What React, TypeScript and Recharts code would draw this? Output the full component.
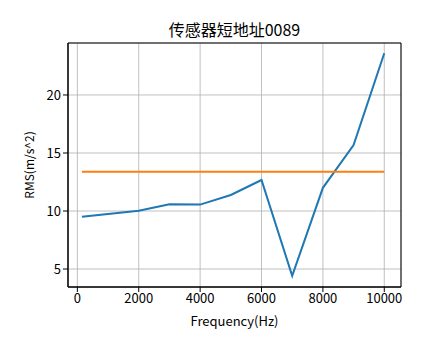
import React from 'react';
import { LineChart, Line, XAxis, YAxis, CartesianGrid, ReferenceArea } from 'recharts';

const chartTitle = '传感器短地址0089';
const xLabel = 'Frequency(Hz)';
const yLabel = 'RMS(m/s^2)';

const frequencies = [150, 2000, 3000, 4000, 5000, 6000, 7000, 8000, 9000, 10000];
const rmsValues = [9.51, 10.03, 10.58, 10.55, 11.38, 12.67, 4.42, 12.0, 15.69, 23.6];
const thresholdValues = [13.39, 13.39, 13.39, 13.39, 13.39, 13.39, 13.39, 13.39, 13.39, 13.39];

const xTicks = [0, 2000, 4000, 6000, 8000, 10000];
const yTicks = [5, 10, 15, 20];

const xDomain: [number, number] = [-305, 10545];
const yDomain: [number, number] = [3.45, 24.48];

const data = frequencies.map((f, i) => ({ f, rms: rmsValues[i], limit: thresholdValues[i] }));

const FONT = '"Noto Sans CJK SC", "Noto Sans", sans-serif';

export default function App() {
  return (
    <div style={{ position: 'absolute', left: 0, top: 0, width: 444, height: 359, background: '#fff', fontFamily: FONT }}>
      <div
        style={{
          position: 'absolute',
          left: 68,
          top: 18,
          width: 333,
          textAlign: 'center',
          fontSize: 16,
          lineHeight: '22px',
          color: '#000',
          fontFamily: FONT,
        }}
      >
        {chartTitle}
      </div>
      <LineChart
        width={444}
        height={359}
        data={data}
        margin={{ top: 43, right: 43, left: 0, bottom: 22 }}
        style={{ fontFamily: FONT }}
      >
        <CartesianGrid stroke="#b0b0b0" strokeWidth={0.8} />
        <XAxis
          dataKey="f"
          type="number"
          domain={xDomain}
          ticks={xTicks}
          allowDataOverflow
          height={50}
          stroke="#000"
          tickSize={5}
          tick={{ fill: '#000', fontSize: 13, fontFamily: FONT }}
          tickLine={{ stroke: '#000' }}
          axisLine={{ stroke: '#000' }}
          label={{ value: xLabel, position: 'insideBottom', offset: 11, fill: '#000', fontSize: 13, fontFamily: FONT }}
        />
        <YAxis
          type="number"
          domain={yDomain}
          ticks={yTicks}
          allowDataOverflow
          width={68}
          stroke="#000"
          tickSize={5}
          tick={{ fill: '#000', fontSize: 13, fontFamily: FONT }}
          tickLine={{ stroke: '#000' }}
          axisLine={{ stroke: '#000' }}
          label={{ value: yLabel, angle: -90, position: 'insideLeft', offset: 30, fill: '#000', fontSize: 12, fontFamily: FONT, style: { textAnchor: 'middle' } }}
        />
        <ReferenceArea
          x1={xDomain[0]}
          x2={xDomain[1]}
          y1={yDomain[0]}
          y2={yDomain[1]}
          fill="none"
          fillOpacity={0}
          stroke="#000"
          strokeWidth={1}
          ifOverflow="visible"
        />
        <Line dataKey="rms" stroke="#1f77b4" strokeWidth={2} dot={false} isAnimationActive={false} />
        <Line dataKey="limit" stroke="#ff7f0e" strokeWidth={2} dot={false} isAnimationActive={false} />
      </LineChart>
    </div>
  );
}
